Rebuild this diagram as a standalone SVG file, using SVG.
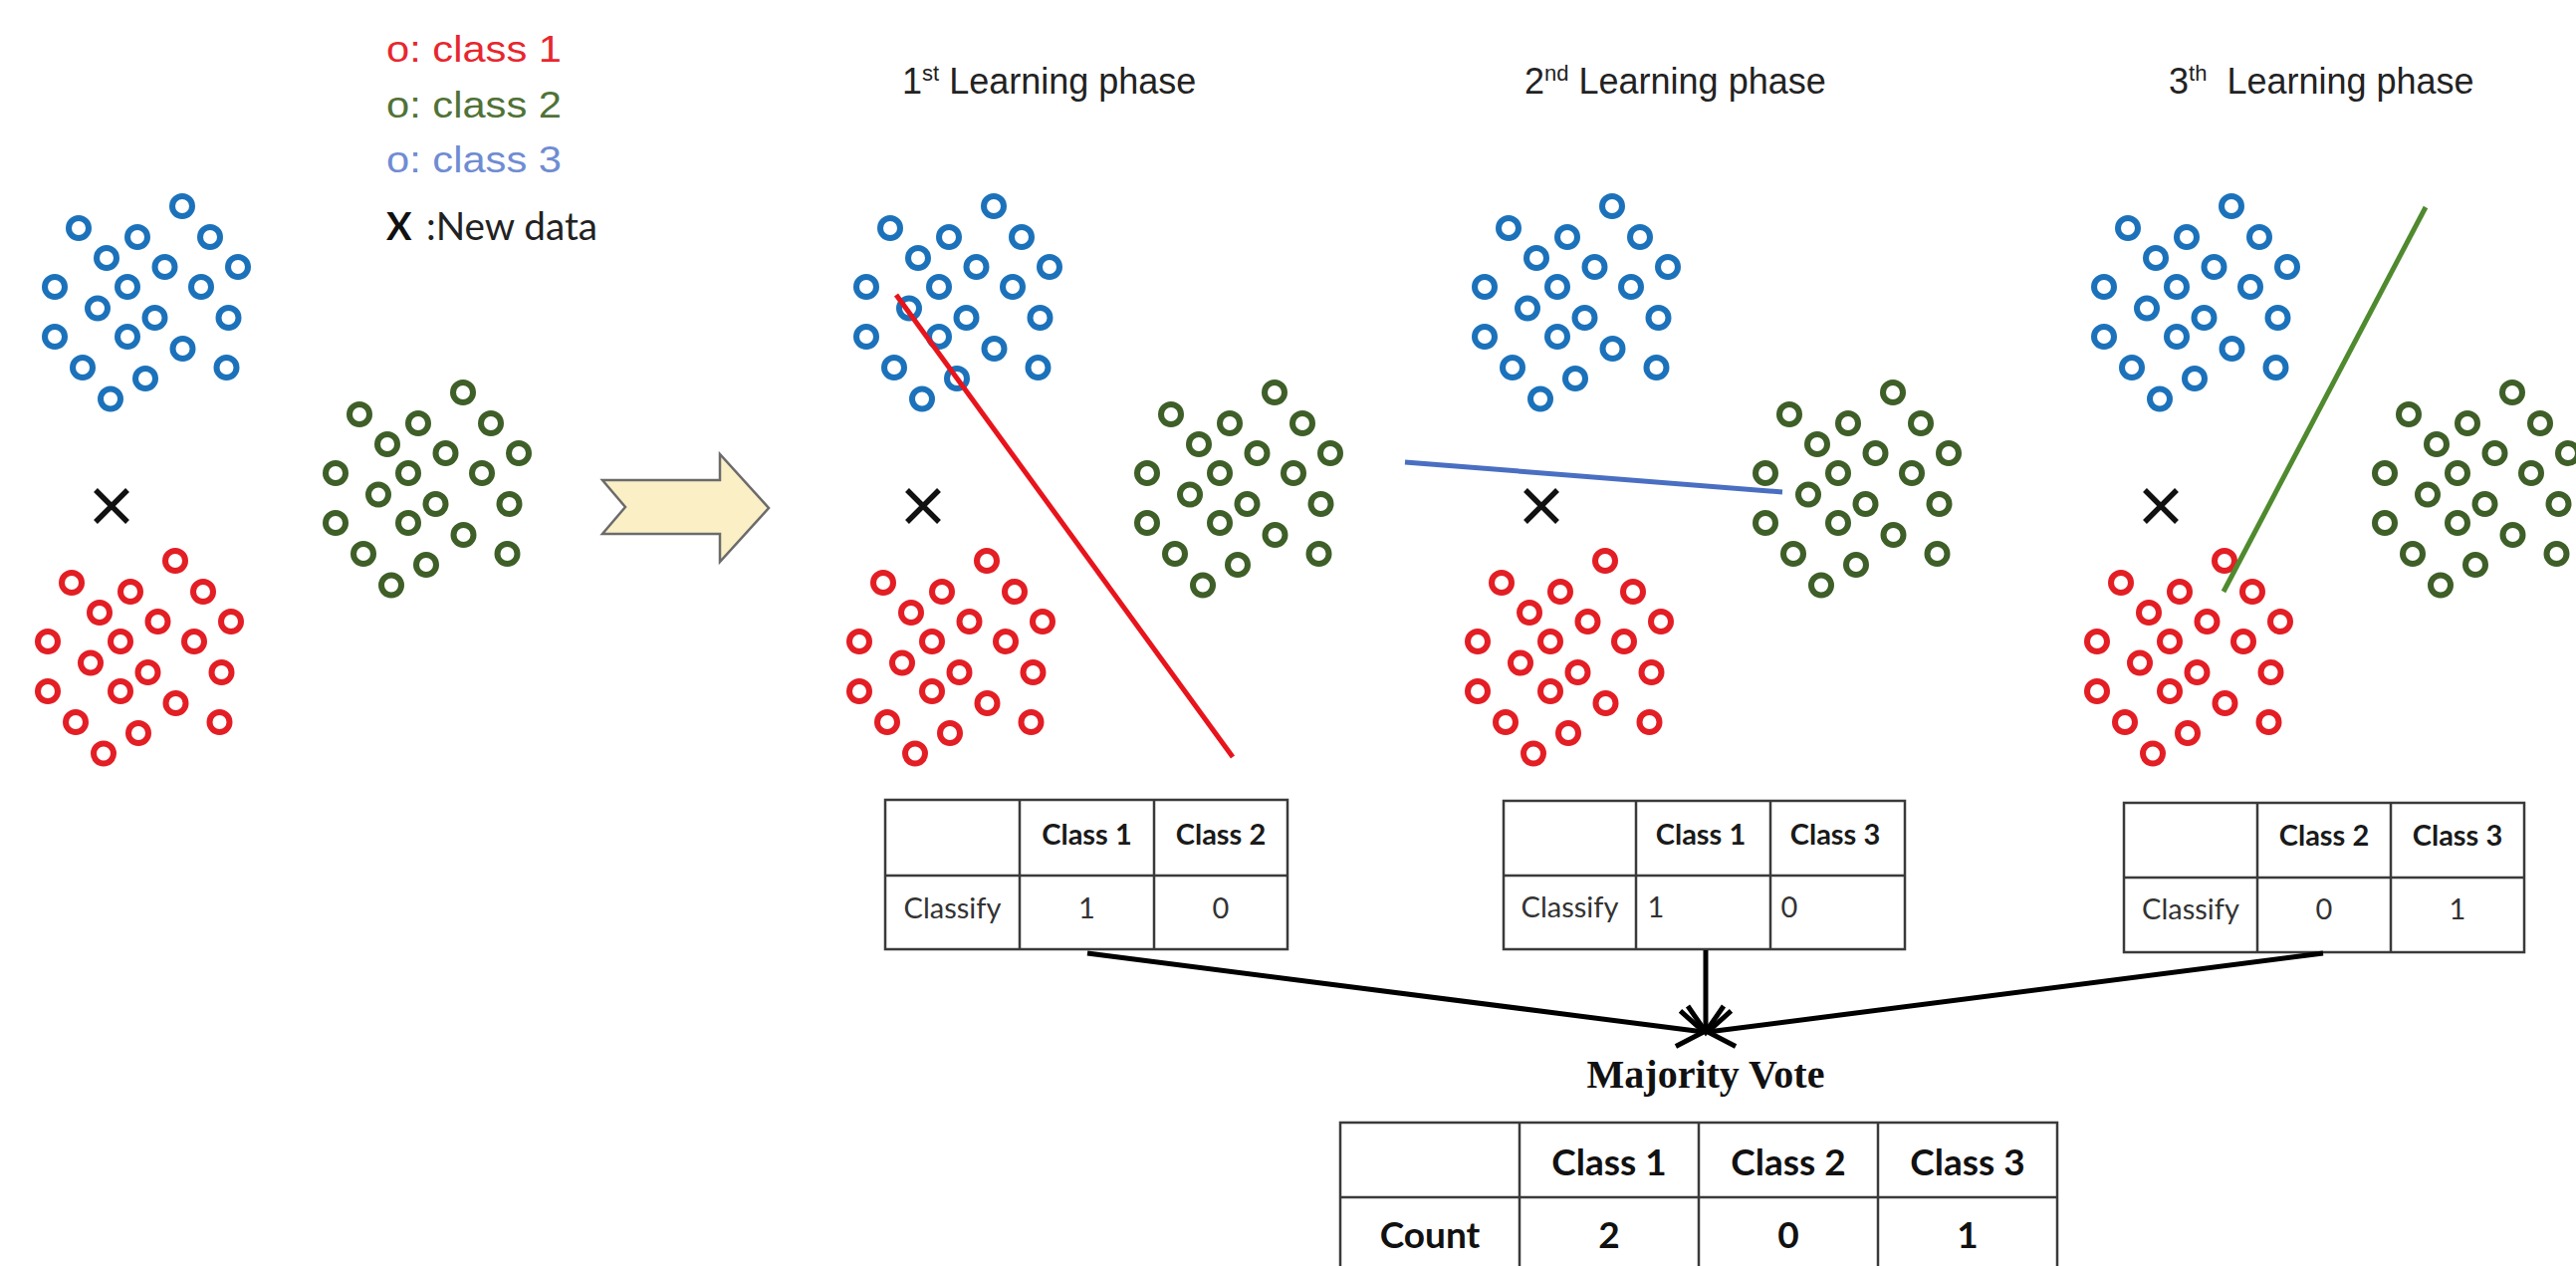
<svg xmlns="http://www.w3.org/2000/svg" xmlns:xlink="http://www.w3.org/1999/xlink" width="2587" height="1271" viewBox="0 0 2587 1271">
<style>
.ring{fill:none;stroke-width:6}
.blue{stroke:#1C72BA}
.red{stroke:#E31E24}
.green{stroke:#3E5F28}
.xm{stroke:#111;stroke-width:5.5;fill:none}
.cell{fill:none;stroke:#3a3a3a;stroke-width:2.5}
.title{font-family:"Liberation Sans",Arial,sans-serif;font-size:36px;fill:#222}
.leg{font-family:"Liberation Sans",Arial,sans-serif;font-size:36px}
.hdr{font-family:Lato,"Liberation Sans",sans-serif;font-weight:bold;font-size:29px;fill:#1a1a1a;text-anchor:middle}
.val{font-family:Lato,"Liberation Sans",sans-serif;font-size:29px;fill:#333;text-anchor:middle}
.big{font-family:Lato,"Liberation Sans",sans-serif;font-weight:bold;font-size:37px;fill:#111;text-anchor:middle}
.conn{stroke:#000;stroke-width:5;fill:none}
</style>
<defs>
<g id="cl">
<circle class="ring" cx="0" cy="0" r="10"/>
<circle class="ring" cx="-104" cy="22" r="10"/>
<circle class="ring" cx="-45" cy="31" r="10"/>
<circle class="ring" cx="28" cy="31" r="10"/>
<circle class="ring" cx="-76" cy="52" r="10"/>
<circle class="ring" cx="-17.5" cy="61" r="10"/>
<circle class="ring" cx="56" cy="61" r="10"/>
<circle class="ring" cx="-128" cy="81" r="10"/>
<circle class="ring" cx="-55" cy="81" r="10"/>
<circle class="ring" cx="19" cy="81" r="10"/>
<circle class="ring" cx="-85" cy="102.5" r="10"/>
<circle class="ring" cx="-27.5" cy="112" r="10"/>
<circle class="ring" cx="46.5" cy="112" r="10"/>
<circle class="ring" cx="-128" cy="131" r="10"/>
<circle class="ring" cx="-55" cy="131" r="10"/>
<circle class="ring" cx="0.5" cy="143" r="10"/>
<circle class="ring" cx="-100" cy="162" r="10"/>
<circle class="ring" cx="44.5" cy="162" r="10"/>
<circle class="ring" cx="-37" cy="173" r="10"/>
<circle class="ring" cx="-72" cy="193.5" r="10"/>
</g>
<g id="xmark"><path class="xm" d="M-16,-16 L16,16 M16,-16 L-16,16"/></g>
<g id="panel">
<use xlink:href="#cl" href="#cl" class="blue" x="183" y="207"/>
<use xlink:href="#cl" href="#cl" class="red" x="176" y="563"/>
<use xlink:href="#cl" href="#cl" class="green" x="465" y="394"/>
<use xlink:href="#xmark" href="#xmark" x="112" y="508"/>
</g>
<marker id="vee" markerUnits="userSpaceOnUse" viewBox="-34 -26 40 52" markerWidth="40" markerHeight="52" refX="0" refY="0" orient="auto" overflow="visible">
<path d="M-26,-18 L0,0 L-26,18" fill="none" stroke="#000" stroke-width="5"/>
</marker>
</defs>
<rect width="2587" height="1271" fill="#fff"/>

<g id="legend">
<text class="leg" x="388" y="62" fill="#E8262E" textLength="176" lengthAdjust="spacingAndGlyphs">o: class 1</text>
<text class="leg" x="388" y="118" fill="#507236" textLength="176" lengthAdjust="spacingAndGlyphs">o: class 2</text>
<text class="leg" x="388" y="173" fill="#6F8CD3" textLength="176" lengthAdjust="spacingAndGlyphs">o: class 3</text>
<text x="388" y="241" font-family="Lato,'Liberation Sans',sans-serif" font-weight="bold" font-size="38" fill="#111">X</text>
<text x="428" y="241" font-family="Lato,'Liberation Sans',sans-serif" font-size="38" fill="#222" textLength="172" lengthAdjust="spacingAndGlyphs">:New data</text>
</g>

<g id="input-panel"><use xlink:href="#panel" href="#panel"/></g>

<g id="block-arrow"><polygon points="605,482 723,482 723,456 772,510 723,564 723,536 605,536 628,509" fill="#FBEFC6" stroke="#6b6b6b" stroke-width="2.5"/></g>

<g id="phase1">
<text class="title" x="906" y="94">1<tspan font-size="22" dy="-13">st</tspan><tspan dy="13"> Learning phase</tspan></text>
<use xlink:href="#panel" href="#panel" x="815"/>
<line x1="900" y1="296" x2="1238" y2="760" stroke="#E8141C" stroke-width="5"/>
</g>
<g id="phase2">
<text class="title" x="1531" y="94">2<tspan font-size="22" dy="-13">nd</tspan><tspan dy="13"> Learning phase</tspan></text>
<use xlink:href="#panel" href="#panel" x="1436"/>
<line x1="1411" y1="464" x2="1790" y2="494" stroke="#4A6FC2" stroke-width="5"/>
</g>
<g id="phase3">
<text class="title" x="2178" y="94" xml:space="preserve">3<tspan font-size="22" dy="-13">th</tspan><tspan dy="13">  Learning phase</tspan></text>
<use xlink:href="#panel" href="#panel" x="2058"/>
<line x1="2436" y1="208" x2="2233" y2="594" stroke="#4F8A2E" stroke-width="5"/>
</g>

<g id="table1">
<rect class="cell" x="889" y="803" width="404" height="150"/>
<path class="cell" d="M889,879 H1293 M1024,803 V953 M1159,803 V953"/>
<text class="hdr" x="1091.5" y="848">Class 1</text>
<text class="hdr" x="1226" y="848">Class 2</text>
<text class="val" x="956.5" y="922">Classify</text>
<text class="val" x="1091.5" y="922">1</text>
<text class="val" x="1226" y="922">0</text>
</g>
<g id="table2">
<rect class="cell" x="1510" y="804" width="403" height="149"/>
<path class="cell" d="M1510,879 H1913 M1643,804 V953 M1778,804 V953"/>
<text class="hdr" x="1708" y="848">Class 1</text>
<text class="hdr" x="1843" y="848">Class 3</text>
<text class="val" x="1576.5" y="921">Classify</text>
<text class="val" x="1663" y="921" text-anchor="start">1</text>
<text class="val" x="1797" y="921" text-anchor="start">0</text>
</g>
<g id="table3">
<rect class="cell" x="2133" y="806" width="402" height="150"/>
<path class="cell" d="M2133,881 H2535 M2267,806 V956 M2401,806 V956"/>
<text class="hdr" x="2334" y="849">Class 2</text>
<text class="hdr" x="2468" y="849">Class 3</text>
<text class="val" x="2200" y="923">Classify</text>
<text class="val" x="2334" y="923">0</text>
<text class="val" x="2468" y="923">1</text>
</g>

<g id="connectors">
<path class="conn" d="M1092,957 L1711,1036" marker-end="url(#vee)"/>
<path class="conn" d="M1713,954 L1713,1036" marker-end="url(#vee)"/>
<path class="conn" d="M2333,957 L1715,1036" marker-end="url(#vee)"/>
</g>

<g id="majority-vote">
<text x="1713" y="1092" text-anchor="middle" font-family="'Liberation Serif','Times New Roman',serif" font-weight="bold" font-size="40" fill="#111">Majority Vote</text>
</g>

<g id="count-table">
<rect class="cell" x="1346" y="1127" width="720" height="160"/>
<path class="cell" d="M1346,1202 H2066 M1526,1127 V1287 M1706,1127 V1287 M1886,1127 V1287"/>
<text class="big" x="1616" y="1180">Class 1</text>
<text class="big" x="1796" y="1180">Class 2</text>
<text class="big" x="1976" y="1180">Class 3</text>
<text class="big" x="1436" y="1253">Count</text>
<text class="big" x="1616" y="1253">2</text>
<text class="big" x="1796" y="1253">0</text>
<text class="big" x="1976" y="1253">1</text>
</g>
</svg>
